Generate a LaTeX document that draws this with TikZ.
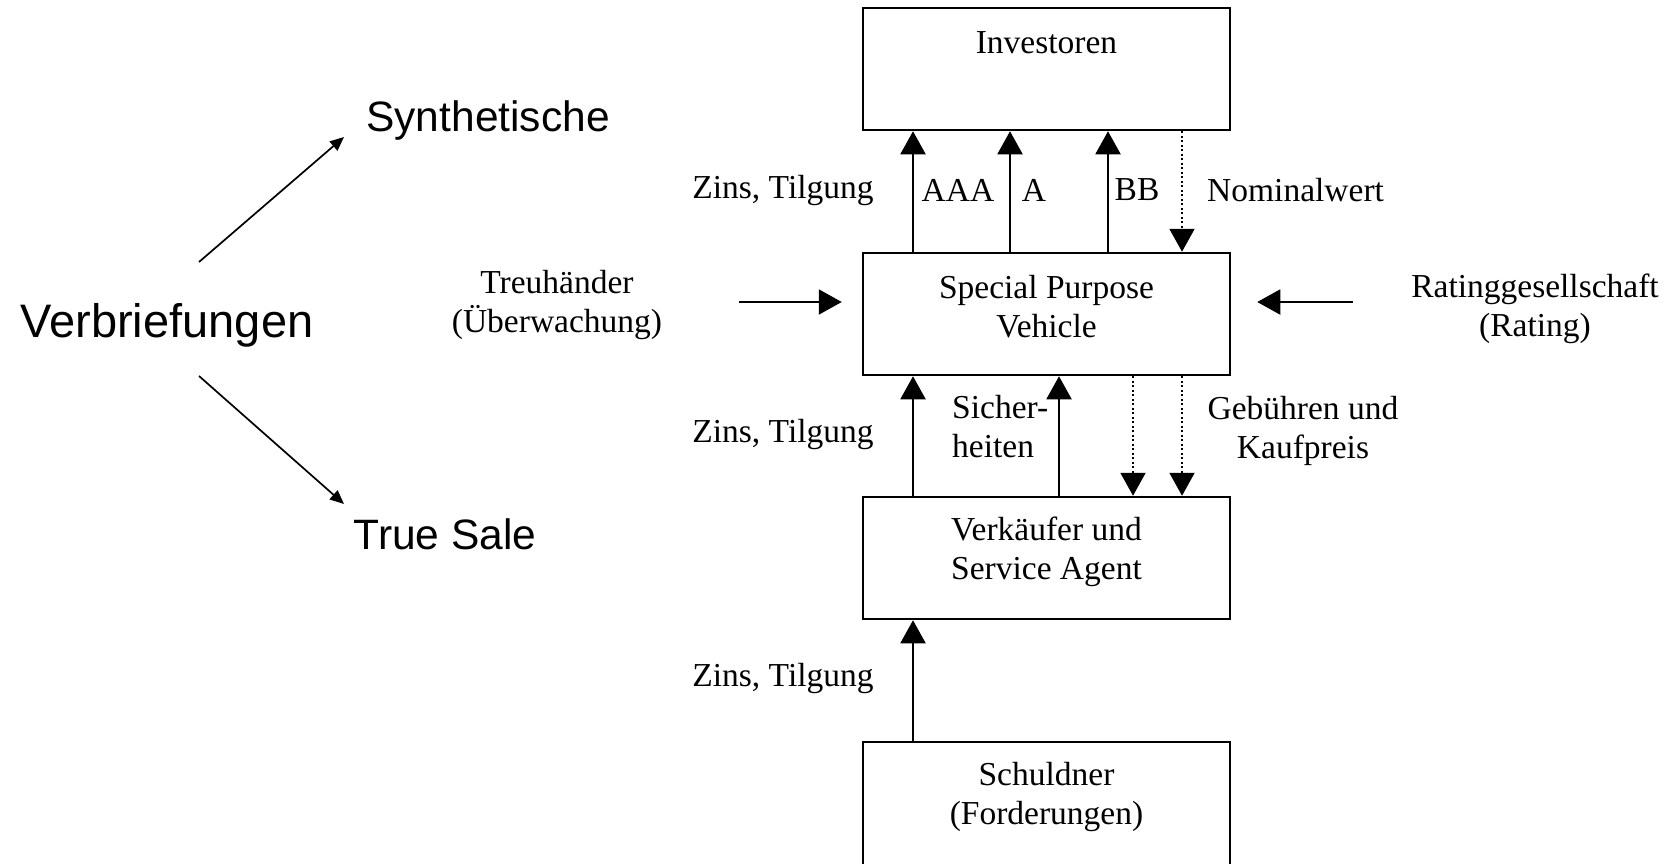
\documentclass[tikz,border=0pt]{standalone}
\usepackage{fontspec}
\setmainfont{Liberation Serif}
\newfontfamily\arialfont{Liberation Sans}
\usetikzlibrary{arrows.meta}
\tikzset{
  box/.style={draw, line width=2.5pt, minimum width=367pt, minimum height=122pt, inner sep=0pt},
  txt/.style={font=\fontsize{33.5}{39}\selectfont, inner sep=0pt, align=center},
  bigsans/.style={font=\arialfont\fontsize{47}{56}\selectfont, inner sep=0pt},
  midsans/.style={font=\arialfont\fontsize{42.5}{50}\selectfont, inner sep=0pt},
  flow/.style={line width=2pt, -{Triangle[width=25pt,length=23pt]}},
  dflow/.style={line width=2pt, dash pattern=on 2pt off 2.5pt, -{Triangle[width=25pt,length=23pt]}},
  thinarrow/.style={line width=1.7pt, -{Triangle[width=12pt,length=14pt]}}
}
\begin{document}
\begin{tikzpicture}[x=1pt,y=-1pt]
\useasboundingbox (0,0) rectangle (1673,863);
\fill[white] (0,0) rectangle (1673,863);

% left part
\node[bigsans] (verb) at (167,325) {Verbriefungen};
\node[midsans] (synth) at (488,121) {Synthetische};
\node[midsans] (true) at (445,534) {True Sale};
\coordinate (l1a) at (199,262);
\coordinate (l1b) at (344,137);
\coordinate (l2a) at (199,376);
\coordinate (l2b) at (344,504);
\draw[thinarrow] (l1a) -- (l1b);
\draw[thinarrow] (l2a) -- (l2b);

% boxes
\node[box] (inv) at (1046.5,69) {};
\node[box] (spv) at (1046.5,314) {};
\node[box] (vk) at (1046.5,558) {};
\node[box, minimum height=140pt] (sch) at (1046.5,812) {};

% box texts
\node[txt] (tinv) at (1046.5,43) {Investoren};
\node[txt] (tspv) at (1046.5,307) {Special Purpose\\Vehicle};
\node[txt] (tvk) at (1046.5,552) {Verkäufer und\\Service Agent};
\node[txt] (tsch) at (1046.5,797) {Schuldner\\(Forderungen)};

% side texts
\node[txt] (treu) at (557,305) {Treuhänder\\(Überwachung)};
\node[txt] (rate) at (1535,309) {Ratinggesellschaft\\(Rating)};

% column positions
\coordinate (c1) at (913,0);
\coordinate (c2) at (1010,0);
\coordinate (c3) at (1108,0);
\coordinate (c4) at (1182,0);
\coordinate (c5) at (1059,0);
\coordinate (c6) at (1133,0);

% Investoren <-> SPV
\draw[flow] (spv.north -| c1) -- (inv.south -| c1);
\draw[flow] (spv.north -| c2) -- (inv.south -| c2);
\draw[flow] (spv.north -| c3) -- (inv.south -| c3);
\draw[dflow] (inv.south -| c4) -- (spv.north -| c4);
\node[txt] (z1) at (783,190) {Zins, Tilgung};
\node[txt] (aaa) at (958,190) {AAA};
\node[txt] (a) at (1034,190) {A};
\node[txt] (bb) at (1137,190) {BB};
\node[txt, anchor=west] (nom) at (1207,190) {Nominalwert};

% SPV <-> Verkaeufer
\draw[flow] (vk.north -| c1) -- (spv.south -| c1);
\draw[flow] (vk.north -| c5) -- (spv.south -| c5);
\draw[dflow] (spv.south -| c6) -- (vk.north -| c6);
\draw[dflow] (spv.south -| c4) -- (vk.north -| c4);
\node[txt] (z2) at (783,434) {Zins, Tilgung};
\node[txt, align=left, anchor=west] (sich) at (952,427) {Sicher-\\heiten};
\node[txt] (geb) at (1303,431) {Gebühren und\\Kaufpreis};

% Schuldner -> Verkaeufer
\draw[flow] (sch.north -| c1) -- (vk.south -| c1);
\node[txt] (z3) at (783,678) {Zins, Tilgung};

% side arrows
\coordinate (ta) at (739,302);
\coordinate (ra) at (1353,302);
\draw[flow] (ta) -- ([xshift=-20pt,yshift=12pt]spv.west);
\draw[flow] (ra) -- ([xshift=26pt,yshift=12pt]spv.east);
\end{tikzpicture}
\end{document}
